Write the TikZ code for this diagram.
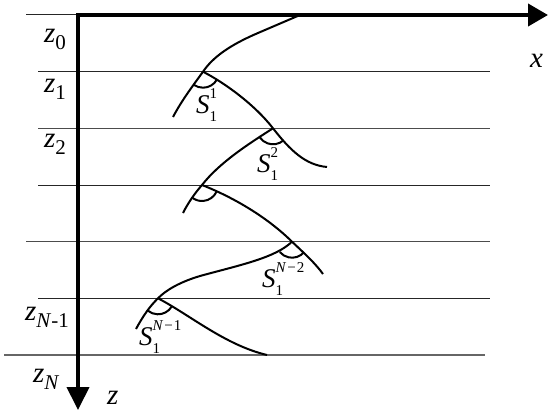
\documentclass[tikz,border=0pt]{standalone}
\usepackage{fontspec}
\setmainfont{Liberation Serif}
\usetikzlibrary{arrows.meta}
\newcommand{\zlab}[1]{\fontsize{29}{29}\selectfont\textit{z}\raisebox{-0.25em}{\fontsize{21}{21}\selectfont #1}}
\newcommand{\slab}[1]{\fontsize{27}{27}\selectfont\textit{S}\rlap{\raisebox{-0.3em}{\fontsize{15}{15}\selectfont 1}}\raisebox{0.55em}{\fontsize{15}{15}\selectfont #1}}
\begin{document}
\begin{tikzpicture}[x=1pt,y=-1pt,
  level/.style={line width=1pt,black!85},
  ray/.style={line width=2pt,black},
  axis/.style={line width=4pt,black},
  lab/.style={anchor=base west,inner sep=0pt}]
\useasboundingbox (0,0) rectangle (548,412);
% layer lines
\draw[level] (26,15) -- (78,15);
\draw[level] (38,71.7) -- (490,71.7);
\draw[level,black!70] (38,128.3) -- (490,128.3);
\draw[level] (38,185) -- (490,185);
\draw[level,black!70] (26,241.7) -- (490,241.7);
\draw[level] (38,298.3) -- (490,298.3);
\draw[level,black!60,line width=1.4pt] (4,355) -- (485,355);
% axes
\coordinate (o) at (78,15);
\coordinate (zend) at (78,410);
\coordinate (xend) at (548,15);
\draw[axis,{Triangle[length=23pt,width=22pt]}-{Triangle[length=20pt,width=22pt]}] (zend) -- (o) -- (xend);
% vertices
\coordinate (v1) at (203,71.7);
\coordinate (v2) at (273,128.3);
\coordinate (v3) at (202,185);
\coordinate (v4) at (292,241.7);
\coordinate (v5) at (158,298.3);
% rays
\draw[ray] (300,15) -- (258,33) .. controls (230,45) and (213,57) .. (v1)
  .. controls (192,87) and (182,100) .. (173,117);
\draw[ray] (v1) .. controls (225,83) and (255,105) .. (v2)
  .. controls (290,150) and (305,165) .. (327,167);
\draw[ray] (v2) .. controls (250,143) and (220,162) .. (v3)
  .. controls (195,193) and (188,203) .. (183,213);
\draw[ray] (v3) .. controls (235,198) and (268,218) .. (v4)
  .. controls (305,254) and (315,263) .. (323,274);
\draw[ray] (v4) .. controls (275,258) and (240,265) .. (200,276)
  .. controls (180,282) and (166,290) .. (v5)
  .. controls (150,306) and (143,316) .. (136,329);
\draw[ray] (v5) .. controls (190,315) and (225,345) .. (267,355);
% angle arcs
\draw[ray] (v1) ++(30:16) arc[start angle=30,end angle=125,radius=16];
\draw[ray] (v2) ++(50:16) arc[start angle=50,end angle=145,radius=16];
\draw[ray] (v3) ++(25:16) arc[start angle=25,end angle=125,radius=16];
\draw[ray] (v4) ++(42:16) arc[start angle=42,end angle=140,radius=16];
\draw[ray] (v5) ++(32:16) arc[start angle=32,end angle=130,radius=16];
% labels
\node[lab] (lz0) at (44,42) {\zlab{0}};
\node[lab] (lz1) at (44,92) {\zlab{1}};
\node[lab] (lz2) at (44,147) {\zlab{2}};
\node[lab] (lzn1) at (25,320) {\zlab{\textit{N}-1}};
\node[lab] (lzn) at (33,382) {\zlab{\textit{N}}};
\node[lab] (lz) at (107,404) {\fontsize{29}{29}\selectfont\textit{z}};
\node[lab] (lx) at (530,67) {\fontsize{29}{29}\selectfont\textit{x}};
\node[lab] (s1) at (196,113) {\slab{1}};
\node[lab] (s2) at (257,172) {\slab{2}};
\node[lab] (s3) at (262,287) {\slab{\textit{N}\kern1pt−\kern1pt2}};
\node[lab] (s4) at (139,345) {\slab{\textit{N}\kern1pt−\kern1pt1}};
\end{tikzpicture}
\end{document}
